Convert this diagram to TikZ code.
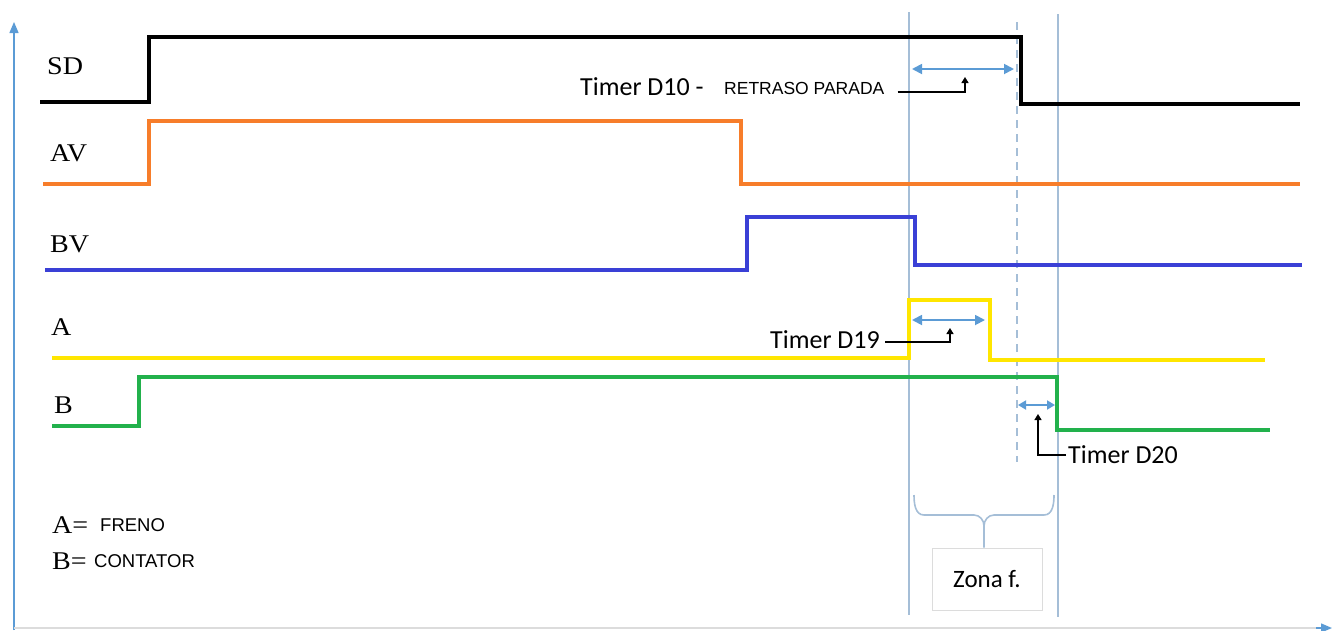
\documentclass[tikz,border=0pt]{standalone}
\usepackage{fontspec}
\setmainfont{Liberation Serif}[FakeStretch=1.1]
\newfontfamily\calfont{Carlito}
\newfontfamily\arifont{Liberation Sans}
\usetikzlibrary{arrows.meta}
\definecolor{axisblue}{RGB}{91,155,213}
\definecolor{vlcol}{RGB}{165,190,215}
\definecolor{sigorange}{RGB}{247,125,42}
\definecolor{sigblue}{RGB}{58,64,214}
\definecolor{sigyellow}{RGB}{255,230,0}
\definecolor{siggreen}{RGB}{34,177,76}
\definecolor{boxgrey}{RGB}{220,220,220}
\begin{document}
\begin{tikzpicture}[x=1pt,y=-1pt]
\tikzset{
 sig/.style={line width=3.6pt, line join=miter},
 vline/.style={draw=vlcol, line width=1.6pt},
 dbl/.style={draw=axisblue, line width=1.8pt, {Triangle[length=10pt,width=10pt]}-{Triangle[length=10pt,width=10pt]}},
 conn/.style={draw=black, line width=1.4pt, -{Triangle[length=6pt,width=7pt]}},
 lab/.style={font=\fontsize{25.5}{26}\selectfont, anchor=west, inner sep=0pt},
 tim/.style={font=\calfont\fontsize{26}{26}\selectfont, anchor=west, inner sep=0pt},
 caps/.style={font=\arifont\fontsize{17.5}{18}\selectfont, anchor=west, inner sep=0pt},
 axis/.style={draw=axisblue, line width=1.4pt, -{Triangle[length=11pt,width=9pt]}},
}
\useasboundingbox (0,0) rectangle (1341,630);
% axes
\draw[axis] (14,630) -- (14,22);
\draw[draw=boxgrey, line width=1.2pt] (14,628) -- (1320,628);
\draw[axis] (1316,628) -- (1332,628);
% vertical reference lines
\draw[vline] (909,12) -- (909,615);
\draw[vline] (1058,14) -- (1058,617);
\draw[vline, dash pattern=on 8pt off 6pt] (1017,22) -- (1017,462);
% signals
\draw[sig, black, line width=4pt] (40,102) -- (149,102) -- (149,37) -- (1021,37) -- (1021,104) -- (1300,104);
\draw[sig, sigorange] (43,184) -- (149,184) -- (149,121) -- (741,121) -- (741,184) -- (1300,184);
\draw[sig, sigblue] (45,270) -- (747,270) -- (747,217) -- (915,217) -- (915,265) -- (1302,265);
\draw[sig, sigyellow] (52,358) -- (909,358) -- (909,300) -- (990,300) -- (990,360) -- (1265,360);
\draw[sig, siggreen] (52,426) -- (139,426) -- (139,377) -- (1057,377) -- (1057,430) -- (1270,430);
% signal labels
\node[lab] (lsd) at (47,66) {SD};
\node[lab] (lav) at (50,153) {AV};
\node[lab] (lbv) at (50,244) {BV};
\node[lab] (la) at (51,327) {A};
\node[lab] (lb) at (54,405) {B};
% legend
\node[lab] (lega) at (52,525) {A=};
\node[caps, font=\arifont\fontsize{18.5}{19}\selectfont] (legaf) at (100,525) {FRENO};
\node[lab] (legb) at (52,561) {B=};
\node[caps, font=\arifont\fontsize{18.5}{19}\selectfont] (legbc) at (94,561) {CONTATOR};
% timers
\coordinate (d10a) at (912,69);
\coordinate (d10b) at (1014,69);
\draw[dbl] (d10a) -- (d10b);
\node[tim] (t10) at (580,87) {Timer D10 -};
\node[caps] (r10) at (724,88) {RETRASO PARADA};
\coordinate (c10) at (965,77);
\draw[conn] ([xshift=13pt,yshift=-4pt]r10.east) -| (c10);

\coordinate (d19a) at (912,320);
\coordinate (d19b) at (985,320);
\draw[dbl] (d19a) -- (d19b);
\node[tim] (t19) at (770,340) {Timer D19};
\coordinate (c19) at (950,328);
\draw[conn] ([xshift=5pt,yshift=-2pt]t19.east) -| (c19);

\coordinate (d20a) at (1018,405);
\coordinate (d20b) at (1055,405);
\draw[dbl, {Triangle[length=8pt,width=9pt]}-{Triangle[length=8pt,width=9pt]}] (d20a) -- (d20b);
\node[tim] (t20) at (1068,455) {Timer D20};
\coordinate (c20) at (1038,414);
\draw[conn] ([xshift=-2pt]t20.west) -| (c20);
% brace and zone box
\node[draw=boxgrey, line width=1pt, minimum width=110pt, minimum height=62pt, inner sep=0pt, font=\calfont\fontsize{25}{25}\selectfont] (zone) at (987,579) {Zona f.};
\coordinate (brl) at (914,495);
\coordinate (brr) at (1054,495);
\coordinate (brc) at (984,526);
\draw[draw=vlcol, line width=1.6pt] (brl) to[out=-90,in=180] (924,515) -- (974,515) to[out=0,in=90] (brc)
  (brr) to[out=-90,in=0] (1044,515) -- (994,515) to[out=180,in=90] (brc) -- (brc |- zone.north);
\end{tikzpicture}
\end{document}
